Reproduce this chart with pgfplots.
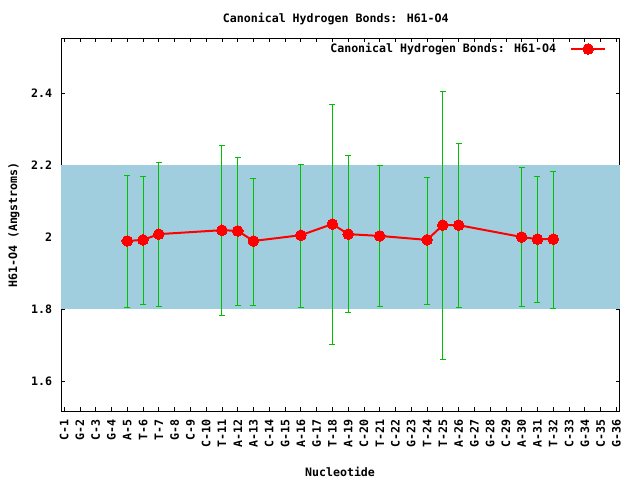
\documentclass[border=0pt]{standalone}
\usepackage{fontspec}
\setmainfont{DejaVu Sans Mono}
\usepackage{pgfplots}
\pgfplotsset{compat=1.18}
\definecolor{band}{RGB}{161,206,222}
\definecolor{ebar}{RGB}{0,192,0}
\newcommand{\gfont}{\fontsize{8.7}{10}\selectfont\bfseries}

\begin{document}
\begin{tikzpicture}[x=1pt,y=1pt]
\path[use as bounding box] (-45.75pt,-51.75pt) rectangle (434.25pt,308.25pt);
\begin{axis}[
  scale only axis,
  width=418.9pt,
  height=279.75pt,
  at={(0pt,0pt)},
  anchor=south west,
  xmin=0.8, xmax=36.2,
  ymin=1.5175, ymax=2.554,
  axis line style={black, line width=0.6pt},
  tick style={black, line width=0.6pt},
  major tick length=3pt,
  tick align=inside,
  xtick={1,...,36},
  xticklabels={C-1,G-2,C-3,G-4,A-5,T-6,T-7,G-8,C-9,C-10,T-11,A-12,A-13,C-14,G-15,A-16,G-17,T-18,A-19,C-20,T-21,C-22,G-23,T-24,T-25,A-26,G-27,G-28,C-29,A-30,A-31,T-32,C-33,G-34,C-35,G-36},
  xticklabel style={rotate=90, anchor=east, font=\gfont, inner sep=0pt, xshift=0pt},
  xticklabel shift=6pt,
  ytick={1.6,1.8,2.0,2.2,2.4},
  yticklabels={1.6,1.8,2,2.2,2.4},
  yticklabel style={font=\gfont, inner sep=0pt},
  yticklabel shift=6.5pt,
  /pgf/number format/assume math mode=true,
  minor tick num=0,
  clip=false,
  legend style={draw=none, fill=none, inner sep=0pt, outer sep=0pt,
    at={(rel axis cs:0.976,0.9705)}, anchor=east,
    font=\gfont,
    nodes={inner sep=0pt}},
  legend plot pos=right,
  legend cell align=right,
  /tikz/every odd column/.append style={column sep=10.5pt},
  legend image code/.code={
    \draw[#1, mark repeat=2, mark phase=2] plot coordinates {(0pt,0pt) (12.75pt,0pt) (25.5pt,0pt)};
  },
]
\addplot[draw=none, fill=band, forget plot] coordinates {
  (0.8,1.8) (36.2,1.8) (36.2,2.2) (0.8,2.2)
};
\addplot[red, line width=1.5pt, mark=*, mark size=4pt,
  mark options={fill=red, draw=red, line width=0pt},
  error bars/.cd, y dir=both, y explicit,
  error bar style={ebar, line width=0.75pt},
  error mark options={ebar, rotate=90, mark size=2.25pt, line width=0.75pt}]
  table[x=x, y=y, y error plus=ep, y error minus=em] {
  x   y      ep     em
  5   1.990  0.181  0.185
  6   1.993  0.176  0.180
  7   2.009  0.198  0.202
  11  2.020  0.235  0.238
  12  2.018  0.203  0.208
  13  1.990  0.173  0.180
  16  2.006  0.196  0.201
  18  2.037  0.332  0.335
  19  2.009  0.218  0.218
  21  2.004  0.195  0.197
  24  1.993  0.173  0.180
  25  2.034  0.371  0.374
  26  2.034  0.226  0.229
  30  2.001  0.193  0.194
  31  1.995  0.174  0.176
  32  1.995  0.187  0.193
};
\addlegendentry{Canonical Hydrogen Bonds: H61-O4}
\node[font=\gfont] at (rel axis cs:0.492,1.051) {Canonical Hydrogen Bonds: H61-O4};
\node[font=\gfont] at (rel axis cs:0.4996,-0.1635) {Nucleotide};
\node[font=\gfont, rotate=90] at (rel axis cs:-0.0842,0.4987) {H61-O4 (Angstroms)};
\end{axis}
\end{tikzpicture}
\end{document}
